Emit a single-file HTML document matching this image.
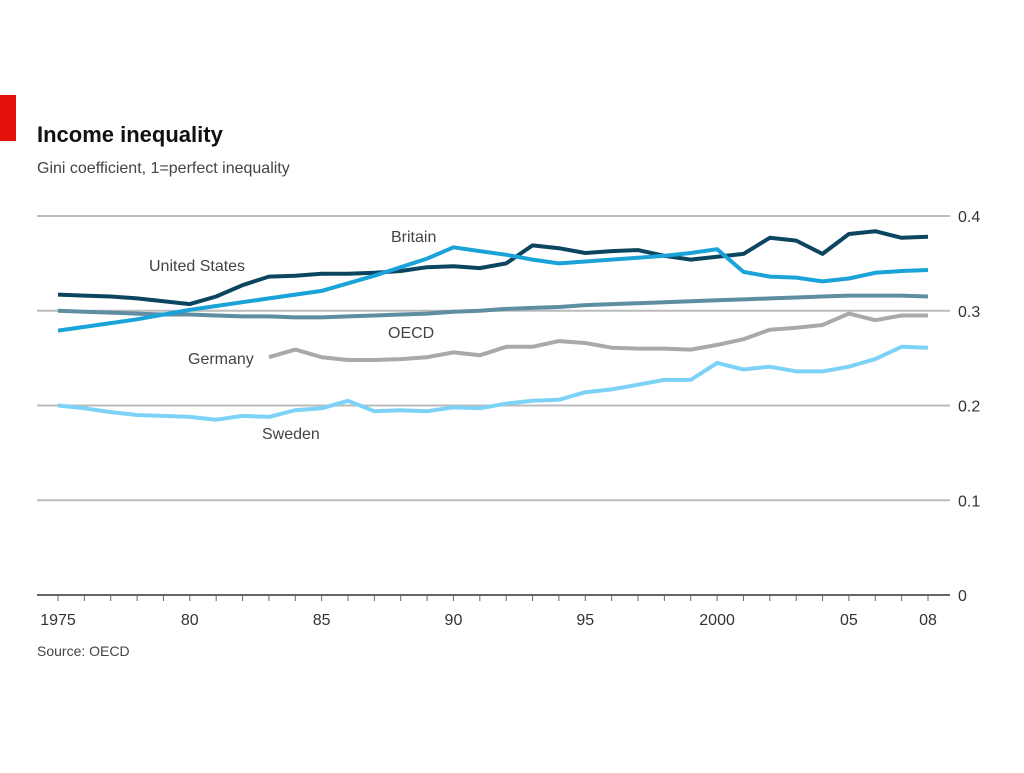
<!DOCTYPE html>
<html><head><meta charset="utf-8"><style>
body{margin:0;background:#fff;width:1024px;height:768px;overflow:hidden;font-family:"Liberation Sans",sans-serif}
svg text{font-family:"Liberation Sans",sans-serif}
</style></head><body>
<svg id="c" width="1024" height="768">
<rect x="0" y="95" width="16" height="46" fill="#e3120b"/>
<text x="37" y="142" font-size="22" font-weight="bold" fill="#111">Income inequality</text>
<text x="37" y="173" font-size="16" fill="#444">Gini coefficient, 1=perfect inequality</text>
<text x="37" y="656" font-size="14" fill="#444">Source: OECD</text>
<g id="grid"></g><g id="lines"></g>
<text x="149" y="271" font-size="16" fill="#444">United States</text>
<text x="391" y="242" font-size="16" fill="#444">Britain</text>
<text x="388" y="338" font-size="16" fill="#444">OECD</text>
<text x="188" y="364" font-size="16" fill="#444">Germany</text>
<text x="262" y="439" font-size="16" fill="#444">Sweden</text>
</svg>
<script>
const years=[];for(let y=1975;y<=2008;y++)years.push(y);
const yTicks=[0,0.1,0.2,0.3,0.4];
const yTickLabels=["0","0.1","0.2","0.3","0.4"];
const xLabelYears=[1975,1980,1985,1990,1995,2000,2005,2008];
const xLabels=["1975","80","85","90","95","2000","05","08"];
const usVals=[.317,.316,.315,.313,.310,.307,.315,.327,.336,.337,.339,.339,.340,.342,.346,.347,.345,.350,.369,.366,.361,.363,.364,.358,.354,.357,.360,.377,.374,.360,.381,.384,.377,.378];
const ukVals=[.279,.283,.287,.291,.296,.301,.305,.309,.313,.317,.321,.329,.337,.346,.355,.367,.363,.359,.354,.350,.352,.354,.356,.358,.361,.365,.341,.336,.335,.331,.334,.340,.342,.343];
const oecdVals=[.300,.299,.298,.297,.296,.296,.295,.294,.294,.293,.293,.294,.295,.296,.297,.299,.300,.302,.303,.304,.306,.307,.308,.309,.310,.311,.312,.313,.314,.315,.316,.316,.316,.315];
const deYears=[1983,1984,1985,1986,1987,1988,1989,1990,1991,1992,1993,1994,1995,1996,1997,1998,1999,2000,2001,2002,2003,2004,2005,2006,2007,2008];
const deVals=[.251,.259,.251,.248,.248,.249,.251,.256,.253,.262,.262,.268,.266,.261,.260,.260,.259,.264,.270,.280,.282,.285,.297,.290,.295,.295];
const seVals=[.200,.197,.193,.190,.189,.188,.185,.189,.188,.195,.197,.205,.194,.195,.194,.198,.197,.202,.205,.206,.214,.217,.222,.227,.227,.245,.238,.241,.236,.236,.241,.249,.262,.261];
const X=y=>58+(y-1975)*(870/33);
const Y=v=>595-v*947.5;
const NS="http://www.w3.org/2000/svg";
const grid=document.getElementById('grid'),lines=document.getElementById('lines');
function mk(t,a,p){const e=document.createElementNS(NS,t);for(const k in a)e.setAttribute(k,a[k]);p.appendChild(e);return e;}
yTicks.forEach((v,i)=>{
 const l=mk('line',{x1:37,x2:950,y1:Y(v),y2:Y(v),stroke:v===0?'#666':'#bbb','stroke-width':2},grid);
 
 
 const t=mk('text',{x:958,y:Y(v)+6,'font-size':16,fill:'#333'},grid);t.textContent=yTickLabels[i];
 
 
});
years.forEach(y=>{
 const l=mk('line',{x1:X(y),x2:X(y),y1:595,y2:601,stroke:'#666','stroke-width':1},grid);
 
 
});
xLabelYears.forEach((y,i)=>{
 const t=mk('text',{x:X(y),y:625,'font-size':16,fill:'#333','text-anchor':'middle'},grid);t.textContent=xLabels[i];
 
 
});
function series(xs,vs,color,name){
 const d=vs.map((v,i)=>(i?'L':'M')+X(xs[i]).toFixed(1)+','+Y(v).toFixed(1)).join('');
 const p=mk('path',{d:d,fill:'none',stroke:color,'stroke-width':4,'stroke-linejoin':'round'},lines);
 
 
}
series(years,oecdVals,'#5f8ea3','line-oecd');
series(deYears,deVals,'#a9a9a9','line-germany');
series(years,seVals,'#7dd3f7','line-sweden');
series(years,usVals,'#0b4560','line-united-states');
series(years,ukVals,'#1aa3d9','line-britain');
</script>
</body></html>
